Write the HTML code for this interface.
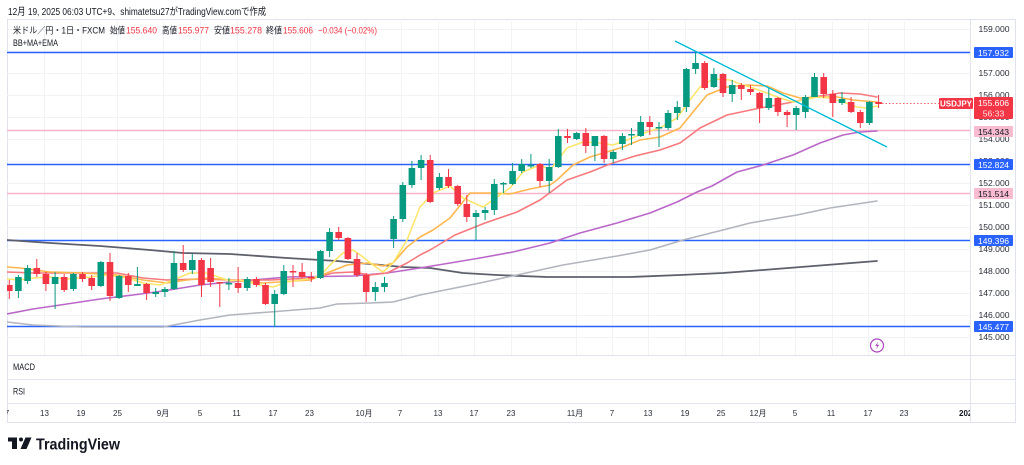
<!DOCTYPE html>
<html><head><meta charset="utf-8"><style>
html,body{margin:0;padding:0;background:#fff;}
svg{display:block;}
text{font-family:"Liberation Sans","Noto Sans CJK JP",sans-serif;}
</style></head><body>
<svg width="1024" height="465" viewBox="0 0 1024 465" xmlns="http://www.w3.org/2000/svg">
<defs><clipPath id="pane"><rect x="7" y="19" width="963" height="336"/></clipPath>
<clipPath id="tax"><rect x="7" y="403" width="963" height="20"/></clipPath></defs>
<rect width="1024" height="465" fill="#fff"/>
<text x="8" y="15" font-size="10" fill="#131722" textLength="258" lengthAdjust="spacingAndGlyphs">12月 19, 2025 06:03 UTC+9、shimatetsu27がTradingView.comで作成</text>
<rect x="7.5" y="19.5" width="1008" height="403" fill="none" stroke="#e0e3eb"/>
<line x1="970.5" y1="19" x2="970.5" y2="423" stroke="#e0e3eb"/>
<line x1="7" y1="355.5" x2="1016" y2="355.5" stroke="#e0e3eb"/>
<line x1="7" y1="379.5" x2="1016" y2="379.5" stroke="#e0e3eb"/>
<line x1="7" y1="403.5" x2="1016" y2="403.5" stroke="#e0e3eb"/>
<g stroke="#f2f3f6" stroke-width="1">
<line x1="7" x2="970" y1="29.5" y2="29.5"/><line x1="7" x2="970" y1="51.5" y2="51.5"/><line x1="7" x2="970" y1="73.5" y2="73.5"/><line x1="7" x2="970" y1="95.5" y2="95.5"/><line x1="7" x2="970" y1="117.5" y2="117.5"/><line x1="7" x2="970" y1="139.5" y2="139.5"/><line x1="7" x2="970" y1="161.5" y2="161.5"/><line x1="7" x2="970" y1="183.5" y2="183.5"/><line x1="7" x2="970" y1="205.5" y2="205.5"/><line x1="7" x2="970" y1="227.5" y2="227.5"/><line x1="7" x2="970" y1="249.5" y2="249.5"/><line x1="7" x2="970" y1="271.5" y2="271.5"/><line x1="7" x2="970" y1="293.5" y2="293.5"/><line x1="7" x2="970" y1="315.5" y2="315.5"/><line x1="7" x2="970" y1="337.5" y2="337.5"/>
<g>
<line y1="19" y2="355" x1="44.5" x2="44.5"/><line y1="19" y2="355" x1="81.5" x2="81.5"/><line y1="19" y2="355" x1="117.5" x2="117.5"/><line y1="19" y2="355" x1="163.5" x2="163.5"/><line y1="19" y2="355" x1="200.5" x2="200.5"/><line y1="19" y2="355" x1="237.5" x2="237.5"/><line y1="19" y2="355" x1="273.5" x2="273.5"/><line y1="19" y2="355" x1="310.5" x2="310.5"/><line y1="19" y2="355" x1="365.5" x2="365.5"/><line y1="19" y2="355" x1="401.5" x2="401.5"/><line y1="19" y2="355" x1="438.5" x2="438.5"/><line y1="19" y2="355" x1="474.5" x2="474.5"/><line y1="19" y2="355" x1="511.5" x2="511.5"/><line y1="19" y2="355" x1="576.5" x2="576.5"/><line y1="19" y2="355" x1="612.5" x2="612.5"/><line y1="19" y2="355" x1="648.5" x2="648.5"/><line y1="19" y2="355" x1="685.5" x2="685.5"/><line y1="19" y2="355" x1="722.5" x2="722.5"/><line y1="19" y2="355" x1="759.5" x2="759.5"/><line y1="19" y2="355" x1="795.5" x2="795.5"/><line y1="19" y2="355" x1="832.5" x2="832.5"/><line y1="19" y2="355" x1="868.5" x2="868.5"/><line y1="19" y2="355" x1="904.5" x2="904.5"/>
</g></g>
<g clip-path="url(#pane)">
<line x1="7" x2="970" y1="52.5" y2="52.5" stroke="#2962ff" stroke-width="1.6"/>
<line x1="7" x2="970" y1="164.5" y2="164.5" stroke="#2962ff" stroke-width="1.6"/>
<line x1="7" x2="970" y1="240.5" y2="240.5" stroke="#2962ff" stroke-width="1.6"/>
<line x1="7" x2="970" y1="326.5" y2="326.5" stroke="#2962ff" stroke-width="1.6"/>
<line x1="7" x2="970" y1="130.5" y2="130.5" stroke="#f7b3c8" stroke-width="1.4"/>
<line x1="7" x2="970" y1="193.5" y2="193.5" stroke="#f7b3c8" stroke-width="1.4"/>
<g fill="none" stroke-linejoin="round" stroke-linecap="round">
<polyline stroke="#5d606b" stroke-width="1.8" points="7,240 50,243 100,246 150,250 183,253 230,254 287,258 337,261 370,264 403,267 430,268 463,273 497,275 547,277 630,277 680,275 723,273 763,270 877,261"/>
<polyline stroke="#b2b5be" stroke-width="1.6" points="7,322 33,325 83,327 133,327 163,327 200,320 230,315 270,312 320,308 337,304 370,303 393,302 420,295 450,289 480,283 517,275 563,265 617,256 650,250 683,240 723,230 750,223 797,215 830,208 877,201"/>
<polyline stroke="#ba68c8" stroke-width="1.6" points="7,314 33,309 67,304 100,299 133,295 163,291 200,285 230,282 287,277 353,276 387,273 420,268 450,263 480,258 513,252 550,243 580,233 617,223 650,213 677,202 697,192 712,186 737,172 763,165 793,155 820,143 843,135 860,132 877,131"/>
<polyline stroke="#f7797d" stroke-width="1.6" points="7,272 33,273 83,273 117,273 143,278 167,280 200,279 230,280 270,280 313,278 333,273 353,272 370,275 387,273 407,263 420,255 430,250 455,235 485,223 517,212 540,200 567,180 590,172 610,164 635,156 660,150 680,143 700,128 727,115 760,108 793,102 813,97 840,93 860,94 877,97"/>
<polyline stroke="#ffb74d" stroke-width="1.6" points="7,267 20,268 50,272 83,273 117,275 143,280 167,283 187,280 207,278 230,280 263,283 310,280 327,273 347,265 367,263 383,266 393,263 407,247 420,237 433,230 450,218 470,193 490,193 510,194 530,189 550,185 557,180 573,165 590,157 607,152 623,147 640,140 660,137 680,128 693,112 707,95 727,87 747,85 767,86 783,93 800,98 817,97 837,97 853,100 877,102"/>
<polyline stroke="#fde66b" stroke-width="1.6" points="7,279 20,280 33,278 50,277 67,279 90,277 107,275 127,278 143,283 160,285 173,280 190,273 207,273 230,281 240,280 260,285 273,287 287,282 307,279 320,276 330,265 343,253 353,250 363,257 373,265 383,272 393,263 407,240 420,207 433,193 450,186 463,198 483,207 497,197 510,188 523,172 540,165 550,170 567,148 583,142 600,143 613,145 627,140 647,132 660,128 677,118 690,100 700,87 713,79 730,80 743,85 753,88 767,93 780,98 793,102 803,100 817,97 830,98 843,102 857,107 867,108 878,106"/>
</g>
<g stroke-width="1">
<line x1="9.3" x2="9.3" y1="280" y2="299" stroke="#f23645"/><rect x="6" y="285" width="6.6" height="6" fill="#f23645"/>
<line x1="18.4" x2="18.4" y1="275" y2="298" stroke="#089981"/><rect x="15.1" y="277" width="6.6" height="14" fill="#089981"/>
<line x1="27.6" x2="27.6" y1="265" y2="284" stroke="#089981"/><rect x="24.3" y="268" width="6.6" height="13" fill="#089981"/>
<line x1="36.8" x2="36.8" y1="259" y2="277" stroke="#f23645"/><rect x="33.5" y="268" width="6.6" height="6" fill="#f23645"/>
<line x1="45.9" x2="45.9" y1="272" y2="291" stroke="#f23645"/><rect x="42.6" y="274" width="6.6" height="10" fill="#f23645"/>
<line x1="55.1" x2="55.1" y1="272" y2="309" stroke="#089981"/><rect x="51.8" y="277" width="6.6" height="7" fill="#089981"/>
<line x1="64.2" x2="64.2" y1="274" y2="292" stroke="#f23645"/><rect x="60.9" y="277" width="6.6" height="13" fill="#f23645"/>
<line x1="73.4" x2="73.4" y1="273" y2="291" stroke="#089981"/><rect x="70.1" y="274" width="6.6" height="15" fill="#089981"/>
<line x1="82.5" x2="82.5" y1="272" y2="282" stroke="#f23645"/><rect x="79.2" y="274" width="6.6" height="5" fill="#f23645"/>
<line x1="91.7" x2="91.7" y1="275" y2="290" stroke="#f23645"/><rect x="88.4" y="278" width="6.6" height="8" fill="#f23645"/>
<line x1="100.8" x2="100.8" y1="261" y2="287" stroke="#089981"/><rect x="97.5" y="262" width="6.6" height="24" fill="#089981"/>
<line x1="110" x2="110" y1="253" y2="301" stroke="#f23645"/><rect x="106.7" y="262" width="6.6" height="34" fill="#f23645"/>
<line x1="119.1" x2="119.1" y1="275" y2="299" stroke="#089981"/><rect x="115.8" y="276" width="6.6" height="22" fill="#089981"/>
<line x1="128.3" x2="128.3" y1="273" y2="292" stroke="#f23645"/><rect x="125" y="276" width="6.6" height="9" fill="#f23645"/>
<line x1="137.4" x2="137.4" y1="267" y2="286" stroke="#089981"/><rect x="134.1" y="284" width="6.6" height="2" fill="#089981"/>
<line x1="146.6" x2="146.6" y1="283" y2="300" stroke="#f23645"/><rect x="143.3" y="284" width="6.6" height="9" fill="#f23645"/>
<line x1="155.7" x2="155.7" y1="288" y2="297" stroke="#089981"/><rect x="152.4" y="292" width="6.6" height="2" fill="#089981"/>
<line x1="164.9" x2="164.9" y1="287" y2="297" stroke="#089981"/><rect x="161.6" y="289" width="6.6" height="3" fill="#089981"/>
<line x1="174" x2="174" y1="251" y2="290" stroke="#089981"/><rect x="170.7" y="263" width="6.6" height="26" fill="#089981"/>
<line x1="183.2" x2="183.2" y1="245" y2="272" stroke="#f23645"/><rect x="179.9" y="263" width="6.6" height="7" fill="#f23645"/>
<line x1="192.3" x2="192.3" y1="254" y2="274" stroke="#089981"/><rect x="189" y="260" width="6.6" height="10" fill="#089981"/>
<line x1="201.5" x2="201.5" y1="258" y2="297" stroke="#f23645"/><rect x="198.2" y="260" width="6.6" height="25" fill="#f23645"/>
<line x1="210.6" x2="210.6" y1="258" y2="287" stroke="#f23645"/><rect x="207.3" y="268" width="6.6" height="14" fill="#f23645"/>
<line x1="219.8" x2="219.8" y1="282" y2="307" stroke="#f23645"/><rect x="216.5" y="282" width="6.6" height="1.5" fill="#f23645"/>
<line x1="228.9" x2="228.9" y1="278" y2="290" stroke="#089981"/><rect x="225.6" y="283" width="6.6" height="1.5" fill="#089981"/>
<line x1="238.1" x2="238.1" y1="267" y2="293" stroke="#f23645"/><rect x="234.8" y="283" width="6.6" height="5" fill="#f23645"/>
<line x1="247.2" x2="247.2" y1="277" y2="291" stroke="#089981"/><rect x="243.9" y="279" width="6.6" height="9" fill="#089981"/>
<line x1="256.4" x2="256.4" y1="277" y2="287" stroke="#f23645"/><rect x="253.1" y="279" width="6.6" height="6" fill="#f23645"/>
<line x1="265.5" x2="265.5" y1="283" y2="305" stroke="#f23645"/><rect x="262.2" y="285" width="6.6" height="19" fill="#f23645"/>
<line x1="274.7" x2="274.7" y1="290" y2="327" stroke="#089981"/><rect x="271.4" y="294" width="6.6" height="10" fill="#089981"/>
<line x1="283.8" x2="283.8" y1="265" y2="295" stroke="#089981"/><rect x="280.5" y="271" width="6.6" height="23" fill="#089981"/>
<line x1="293" x2="293" y1="265" y2="287" stroke="#f23645"/><rect x="289.7" y="271" width="6.6" height="1.5" fill="#f23645"/>
<line x1="302.1" x2="302.1" y1="263" y2="278" stroke="#f23645"/><rect x="298.8" y="272" width="6.6" height="5" fill="#f23645"/>
<line x1="311.3" x2="311.3" y1="272" y2="282" stroke="#f23645"/><rect x="308" y="277" width="6.6" height="1.5" fill="#f23645"/>
<line x1="320.4" x2="320.4" y1="250" y2="279" stroke="#089981"/><rect x="317.1" y="251" width="6.6" height="27" fill="#089981"/>
<line x1="329.6" x2="329.6" y1="228" y2="257" stroke="#089981"/><rect x="326.3" y="232" width="6.6" height="19" fill="#089981"/>
<line x1="338.7" x2="338.7" y1="227" y2="240" stroke="#f23645"/><rect x="335.4" y="232" width="6.6" height="6" fill="#f23645"/>
<line x1="347.9" x2="347.9" y1="237" y2="260" stroke="#f23645"/><rect x="344.6" y="238" width="6.6" height="21" fill="#f23645"/>
<line x1="357" x2="357" y1="253" y2="277" stroke="#f23645"/><rect x="353.7" y="259" width="6.6" height="16" fill="#f23645"/>
<line x1="366.2" x2="366.2" y1="273" y2="302" stroke="#f23645"/><rect x="362.9" y="275" width="6.6" height="17" fill="#f23645"/>
<line x1="375.3" x2="375.3" y1="282" y2="301" stroke="#089981"/><rect x="372" y="287" width="6.6" height="5" fill="#089981"/>
<line x1="384.5" x2="384.5" y1="277" y2="292" stroke="#089981"/><rect x="381.2" y="283" width="6.6" height="4" fill="#089981"/>
<line x1="393.6" x2="393.6" y1="216" y2="248" stroke="#089981"/><rect x="390.3" y="219" width="6.6" height="20" fill="#089981"/>
<line x1="402.8" x2="402.8" y1="182" y2="222" stroke="#089981"/><rect x="399.5" y="185" width="6.6" height="34" fill="#089981"/>
<line x1="411.9" x2="411.9" y1="161" y2="188" stroke="#089981"/><rect x="408.6" y="168" width="6.6" height="17" fill="#089981"/>
<line x1="421.1" x2="421.1" y1="155" y2="180" stroke="#089981"/><rect x="417.8" y="160" width="6.6" height="8" fill="#089981"/>
<line x1="430.2" x2="430.2" y1="155" y2="203" stroke="#f23645"/><rect x="426.9" y="160" width="6.6" height="42" fill="#f23645"/>
<line x1="439.4" x2="439.4" y1="173" y2="190" stroke="#089981"/><rect x="436.1" y="177" width="6.6" height="11" fill="#089981"/>
<line x1="448.5" x2="448.5" y1="169" y2="188" stroke="#f23645"/><rect x="445.2" y="177" width="6.6" height="9" fill="#f23645"/>
<line x1="457.7" x2="457.7" y1="185" y2="206" stroke="#f23645"/><rect x="454.4" y="186" width="6.6" height="18" fill="#f23645"/>
<line x1="466.8" x2="466.8" y1="195" y2="222" stroke="#f23645"/><rect x="463.5" y="204" width="6.6" height="13" fill="#f23645"/>
<line x1="476" x2="476" y1="210" y2="240" stroke="#089981"/><rect x="472.7" y="213" width="6.6" height="4" fill="#089981"/>
<line x1="485.1" x2="485.1" y1="207" y2="220" stroke="#089981"/><rect x="481.8" y="210" width="6.6" height="3" fill="#089981"/>
<line x1="494.3" x2="494.3" y1="179" y2="215" stroke="#089981"/><rect x="491" y="184" width="6.6" height="26" fill="#089981"/>
<line x1="503.4" x2="503.4" y1="182" y2="193" stroke="#089981"/><rect x="500.1" y="183" width="6.6" height="1.5" fill="#089981"/>
<line x1="512.6" x2="512.6" y1="163" y2="185" stroke="#089981"/><rect x="509.3" y="171" width="6.6" height="13" fill="#089981"/>
<line x1="521.7" x2="521.7" y1="159" y2="173" stroke="#089981"/><rect x="518.4" y="164" width="6.6" height="7" fill="#089981"/>
<line x1="530.9" x2="530.9" y1="154" y2="168" stroke="#089981"/><rect x="527.6" y="165" width="6.6" height="1.5" fill="#089981"/>
<line x1="540" x2="540" y1="163" y2="187" stroke="#f23645"/><rect x="536.7" y="164" width="6.6" height="17" fill="#f23645"/>
<line x1="549.2" x2="549.2" y1="159" y2="193" stroke="#089981"/><rect x="545.9" y="167" width="6.6" height="14" fill="#089981"/>
<line x1="558.3" x2="558.3" y1="129" y2="168" stroke="#089981"/><rect x="555" y="136" width="6.6" height="31" fill="#089981"/>
<line x1="567.5" x2="567.5" y1="129" y2="143" stroke="#f23645"/><rect x="564.2" y="136" width="6.6" height="2" fill="#f23645"/>
<line x1="576.6" x2="576.6" y1="132" y2="140" stroke="#089981"/><rect x="573.3" y="133" width="6.6" height="6" fill="#089981"/>
<line x1="585.8" x2="585.8" y1="128" y2="153" stroke="#f23645"/><rect x="582.5" y="133" width="6.6" height="13" fill="#f23645"/>
<line x1="594.9" x2="594.9" y1="136" y2="161" stroke="#089981"/><rect x="591.6" y="136" width="6.6" height="10" fill="#089981"/>
<line x1="604.1" x2="604.1" y1="135" y2="163" stroke="#f23645"/><rect x="600.8" y="136" width="6.6" height="23" fill="#f23645"/>
<line x1="613.2" x2="613.2" y1="150" y2="163" stroke="#089981"/><rect x="609.9" y="152" width="6.6" height="7" fill="#089981"/>
<line x1="622.4" x2="622.4" y1="133" y2="150" stroke="#089981"/><rect x="619.1" y="136" width="6.6" height="8" fill="#089981"/>
<line x1="631.5" x2="631.5" y1="128" y2="145" stroke="#089981"/><rect x="628.2" y="134" width="6.6" height="1.5" fill="#089981"/>
<line x1="640.7" x2="640.7" y1="116" y2="137" stroke="#089981"/><rect x="637.4" y="122" width="6.6" height="14" fill="#089981"/>
<line x1="649.8" x2="649.8" y1="116" y2="135" stroke="#f23645"/><rect x="646.5" y="122" width="6.6" height="5" fill="#f23645"/>
<line x1="659" x2="659" y1="122" y2="147" stroke="#089981"/><rect x="655.7" y="127" width="6.6" height="1.5" fill="#089981"/>
<line x1="668.1" x2="668.1" y1="110" y2="130" stroke="#089981"/><rect x="664.8" y="113" width="6.6" height="15" fill="#089981"/>
<line x1="677.3" x2="677.3" y1="101" y2="120" stroke="#089981"/><rect x="674" y="107" width="6.6" height="6" fill="#089981"/>
<line x1="686.4" x2="686.4" y1="68" y2="112" stroke="#089981"/><rect x="683.1" y="69" width="6.6" height="38" fill="#089981"/>
<line x1="695.6" x2="695.6" y1="52" y2="74" stroke="#089981"/><rect x="692.3" y="63" width="6.6" height="6" fill="#089981"/>
<line x1="704.7" x2="704.7" y1="61" y2="90" stroke="#f23645"/><rect x="701.4" y="63" width="6.6" height="25" fill="#f23645"/>
<line x1="713.9" x2="713.9" y1="68" y2="88" stroke="#089981"/><rect x="710.6" y="74" width="6.6" height="13" fill="#089981"/>
<line x1="723" x2="723" y1="73" y2="97" stroke="#f23645"/><rect x="719.7" y="74" width="6.6" height="19" fill="#f23645"/>
<line x1="732.2" x2="732.2" y1="80" y2="102" stroke="#089981"/><rect x="728.9" y="85" width="6.6" height="9" fill="#089981"/>
<line x1="741.3" x2="741.3" y1="83" y2="100" stroke="#f23645"/><rect x="738" y="85" width="6.6" height="4" fill="#f23645"/>
<line x1="750.5" x2="750.5" y1="85" y2="95" stroke="#f23645"/><rect x="747.2" y="89" width="6.6" height="3" fill="#f23645"/>
<line x1="759.6" x2="759.6" y1="92" y2="123" stroke="#f23645"/><rect x="756.3" y="93" width="6.6" height="15" fill="#f23645"/>
<line x1="768.8" x2="768.8" y1="88" y2="110" stroke="#089981"/><rect x="765.5" y="98" width="6.6" height="10" fill="#089981"/>
<line x1="777.9" x2="777.9" y1="97" y2="116" stroke="#f23645"/><rect x="774.6" y="98" width="6.6" height="14" fill="#f23645"/>
<line x1="787.1" x2="787.1" y1="110" y2="127" stroke="#f23645"/><rect x="783.8" y="112" width="6.6" height="3" fill="#f23645"/>
<line x1="796.2" x2="796.2" y1="106" y2="130" stroke="#089981"/><rect x="792.9" y="108" width="6.6" height="7" fill="#089981"/>
<line x1="805.4" x2="805.4" y1="95" y2="118" stroke="#089981"/><rect x="802.1" y="97" width="6.6" height="15" fill="#089981"/>
<line x1="814.5" x2="814.5" y1="73" y2="97" stroke="#089981"/><rect x="811.2" y="77" width="6.6" height="20" fill="#089981"/>
<line x1="823.7" x2="823.7" y1="73" y2="98" stroke="#f23645"/><rect x="820.4" y="77" width="6.6" height="17" fill="#f23645"/>
<line x1="832.8" x2="832.8" y1="90" y2="117" stroke="#f23645"/><rect x="829.5" y="94" width="6.6" height="9" fill="#f23645"/>
<line x1="842" x2="842" y1="92" y2="105" stroke="#089981"/><rect x="838.7" y="99" width="6.6" height="4" fill="#089981"/>
<line x1="851.1" x2="851.1" y1="97" y2="113" stroke="#f23645"/><rect x="847.8" y="102" width="6.6" height="10" fill="#f23645"/>
<line x1="860.3" x2="860.3" y1="110" y2="128" stroke="#f23645"/><rect x="857" y="112" width="6.6" height="11" fill="#f23645"/>
<line x1="869.4" x2="869.4" y1="101" y2="125" stroke="#089981"/><rect x="866.1" y="102" width="6.6" height="21" fill="#089981"/>
<line x1="878.6" x2="878.6" y1="95" y2="108" stroke="#f23645"/><rect x="875.3" y="102" width="6.6" height="2" fill="#f23645"/>
</g>
<line x1="675" y1="41" x2="887" y2="147" stroke="#00bcd4" stroke-width="1.4"/>
<line x1="882" y1="103.5" x2="970" y2="103.5" stroke="#f23645" stroke-width="0.8" stroke-dasharray="1.5,2"/>
<circle cx="877" cy="345.5" r="6.5" fill="#fff" stroke="#ab47bc" stroke-width="1.2"/>
<path d="M878.3,341.5 L875.2,346 L877.3,346 L875.9,349.5 L879.2,344.8 L877.1,344.8 Z" fill="#ab47bc"/>
</g>
<g font-size="9" fill="#131722">
<text x="13" y="33.5" textLength="92" lengthAdjust="spacingAndGlyphs">米ドル／円・1日・FXCM</text>
<text x="110" y="33.5" textLength="15" lengthAdjust="spacingAndGlyphs">始値</text>
<text x="126" y="33.5" textLength="31" lengthAdjust="spacingAndGlyphs" fill="#f23645">155.640</text>
<text x="162" y="33.5" textLength="15" lengthAdjust="spacingAndGlyphs">高値</text>
<text x="178" y="33.5" textLength="31" lengthAdjust="spacingAndGlyphs" fill="#f23645">155.977</text>
<text x="214" y="33.5" textLength="16" lengthAdjust="spacingAndGlyphs">安値</text>
<text x="230" y="33.5" textLength="32" lengthAdjust="spacingAndGlyphs" fill="#f23645">155.278</text>
<text x="266" y="33.5" textLength="16" lengthAdjust="spacingAndGlyphs">終値</text>
<text x="283" y="33.5" textLength="30" lengthAdjust="spacingAndGlyphs" fill="#f23645">155.606</text>
<text x="318" y="33.5" textLength="59" lengthAdjust="spacingAndGlyphs" fill="#f23645">−0.034 (−0.02%)</text>
<text x="13" y="46" textLength="45" lengthAdjust="spacingAndGlyphs">BB+MA+EMA</text>
<text x="13" y="370" textLength="22" lengthAdjust="spacingAndGlyphs">MACD</text>
<text x="13" y="394.5" textLength="12" lengthAdjust="spacingAndGlyphs">RSI</text>
</g>
<g font-size="8.6" fill="#2a2e39" text-anchor="middle">
<text x="994" y="32">159.000</text>
<text x="994" y="54">158.000</text>
<text x="994" y="76">157.000</text>
<text x="994" y="98">156.000</text>
<text x="994" y="120">155.000</text>
<text x="994" y="142">154.000</text>
<text x="994" y="164">153.000</text>
<text x="994" y="186">152.000</text>
<text x="994" y="208">151.000</text>
<text x="994" y="230">150.000</text>
<text x="994" y="252">149.000</text>
<text x="994" y="274">148.000</text>
<text x="994" y="296">147.000</text>
<text x="994" y="318">146.000</text>
<text x="994" y="340">145.000</text>
</g>
<g font-size="8.6" text-anchor="middle">
<rect x="974" y="47" width="39" height="11" rx="1" fill="#2962ff"/><text x="993.5" y="55.8" fill="#fff">157.932</text>
<rect x="974" y="159" width="39" height="11" rx="1" fill="#2962ff"/><text x="993.5" y="167.8" fill="#fff">152.824</text>
<rect x="974" y="235" width="39" height="11" rx="1" fill="#2962ff"/><text x="993.5" y="243.8" fill="#fff">149.396</text>
<rect x="974" y="321" width="39" height="11" rx="1" fill="#2962ff"/><text x="993.5" y="329.8" fill="#fff">145.477</text>
<rect x="974" y="126" width="39" height="11" rx="1" fill="#f8bbd0"/><text x="993.5" y="134.8" fill="#131722">154.343</text>
<rect x="974" y="188" width="39" height="11" rx="1" fill="#f8bbd0"/><text x="993.5" y="196.8" fill="#131722">151.514</text>
<rect x="974" y="97" width="39" height="22" rx="1" fill="#f23645"/><text x="993.5" y="106" fill="#fff">155.606</text><text x="993.5" y="116.5" fill="#fde2e4">56:33</text>
<rect x="939" y="98" width="34" height="11" rx="1" fill="#f23645"/><text x="956" y="106.6" fill="#fff" font-size="8" font-weight="bold">USDJPY</text>
</g>
<g font-size="8" fill="#2a2e39" text-anchor="middle" clip-path="url(#tax)">
<text x="7" y="416">7</text>
<text x="44.5" y="416">13</text><text x="81" y="416">19</text><text x="117.5" y="416">25</text><text x="163" y="416">9月</text><text x="200" y="416">5</text><text x="236.5" y="416">11</text><text x="273" y="416">17</text><text x="309.5" y="416">23</text><text x="364" y="416">10月</text><text x="400" y="416">7</text><text x="438" y="416">13</text><text x="474" y="416">17</text><text x="511" y="416">23</text><text x="575" y="416">11月</text><text x="612" y="416">7</text><text x="648" y="416">13</text><text x="685" y="416">19</text><text x="721" y="416">25</text><text x="758" y="416">12月</text><text x="795" y="416">5</text><text x="831" y="416">11</text><text x="868" y="416">17</text><text x="904" y="416">23</text>
<text x="959" y="416" text-anchor="start" font-weight="bold" fill="#131722">2025</text>
</g>
<rect x="971" y="404" width="44" height="18" fill="#fff"/>
<g fill="#131722">
<rect x="8" y="437.5" width="9" height="4"/>
<rect x="12" y="437.5" width="5" height="11.5"/>
<circle cx="21" cy="439.5" r="2"/>
<path d="M25.5,437.5 L31.5,437.5 L26.5,449 L20.5,449 Z"/>
<text x="36" y="449.5" font-size="16" font-weight="bold" textLength="84" lengthAdjust="spacingAndGlyphs">TradingView</text>
</g>
</svg>
</body></html>
